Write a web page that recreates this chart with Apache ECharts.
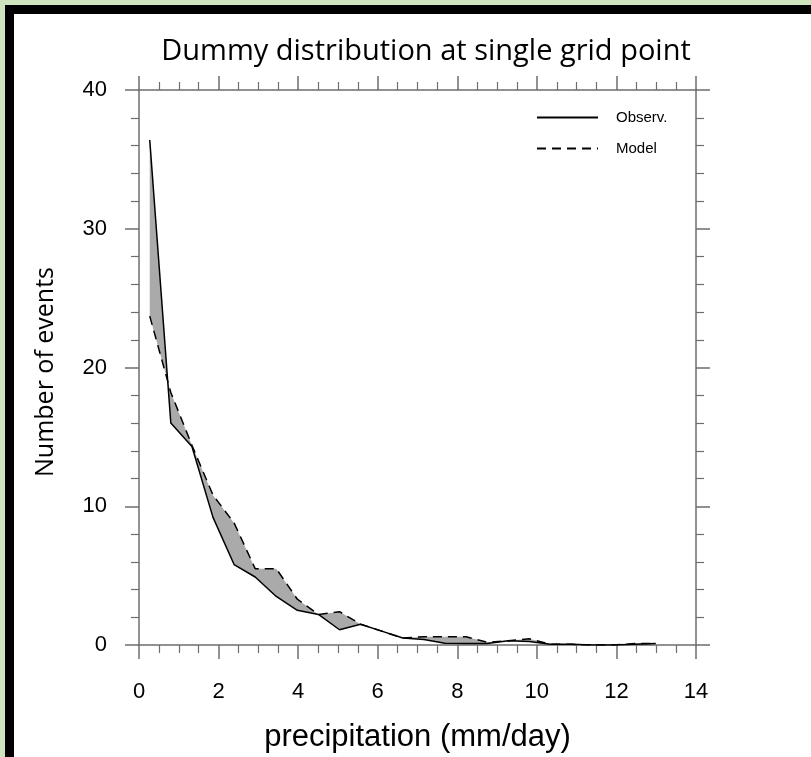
<!DOCTYPE html>
<html>
<head>
<meta charset="utf-8">
<script src="https://cdn.jsdelivr.net/npm/echarts@6/dist/echarts.min.js"></script>
<style>
  html, body { margin:0; padding:0; width:811px; height:757px; overflow:hidden; background:#cde4be; }
  #frame { position:absolute; left:5px; top:5px; width:806px; height:752px; background:#000; }
  #paper { position:absolute; left:14px; top:14px; width:797px; height:743px; background:#fff; }
  #chart { position:absolute; left:0; top:0; width:811px; height:757px; }
</style>
</head>
<body>
<div id="frame"></div>
<div id="paper"></div>
<div id="chart"></div>
<script>
// Bin centres (mm/day)
const precip = [0.27, 0.80, 1.33, 1.86, 2.39, 2.92, 3.45, 3.98, 4.51, 5.04, 5.57, 6.10, 6.63,
                7.16, 7.69, 8.22, 8.75, 9.28, 9.81, 10.34, 10.87, 11.40, 11.93, 12.46, 12.99];
// Number of events
const observ = [36.4, 16.0, 14.3, 9.2, 5.8, 4.9, 3.5, 2.5, 2.2, 1.1, 1.5, 1.0, 0.5,
                0.4, 0.12, 0.1, 0.1, 0.3, 0.25, 0.05, 0.05, 0.0, 0.0, 0.05, 0.1];
const model  = [23.7, 18.2, 14.4, 10.8, 8.8, 5.5, 5.5, 3.3, 2.2, 2.4, 1.5, 1.0, 0.5,
                0.6, 0.6, 0.6, 0.2, 0.3, 0.45, 0.05, 0.05, 0.0, 0.0, 0.1, 0.1];
const xTicks = { min: 0, max: 14, interval: 2 };
const yTicks = { min: 0, max: 40, interval: 10 };

const obsData = precip.map((x, i) => [x, observ[i]]);
const modData = precip.map((x, i) => [x, model[i]]);

const axisGray = '#6e6e6e';
const labelFont = 'Liberation Sans, Arial, sans-serif';
const titleFont = '"Open Sans", Lato, sans-serif';

function xAx(pos, showLabel) {
  return {
    type: 'value', position: pos, min: xTicks.min, max: xTicks.max, interval: xTicks.interval,
    axisLine: { show: true, onZero: false, lineStyle: { color: axisGray, width: 1.5 } },
    axisTick: { show: true, length: 14, lineStyle: { color: axisGray, width: 1.5 } },
    minorTick: { show: true, splitNumber: 4, length: 8, lineStyle: { color: axisGray, width: 1.2 } },
    splitLine: { show: false },
    axisLabel: { show: showLabel, color: '#000', fontFamily: labelFont, fontSize: 22, margin: 36 },
    name: showLabel ? 'precipitation (mm/day)' : '',
    nameLocation: 'middle', nameGap: 77,
    nameTextStyle: { color: '#000', fontFamily: labelFont, fontSize: 31 }
  };
}
function yAx(pos, showLabel) {
  return {
    type: 'value', position: pos, min: yTicks.min, max: yTicks.max, interval: yTicks.interval,
    axisLine: { show: true, onZero: false, lineStyle: { color: axisGray, width: 1.5 } },
    axisTick: { show: true, length: 14, lineStyle: { color: axisGray, width: 1.5 } },
    minorTick: { show: true, splitNumber: 5, length: 8, lineStyle: { color: axisGray, width: 1.2 } },
    splitLine: { show: false },
    axisLabel: { show: showLabel, color: '#000', fontFamily: labelFont, fontSize: 22, margin: 32 }
  };
}

const chart = echarts.init(document.getElementById('chart'), null, { renderer: 'canvas' });
chart.setOption({
  backgroundColor: 'transparent',
  animation: false,
  grid: { left: 139, right: 115, top: 90, bottom: 112, containLabel: false, outerBoundsMode: 'none' },
  xAxis: [xAx('bottom', true), xAx('top', false)],
  yAxis: [yAx('left', true), yAx('right', false)],
  legend: {
    orient: 'vertical', left: 536, top: 110, padding: 0,
    itemWidth: 61, itemHeight: 14, itemGap: 16,
    itemStyle: { color: 'rgba(0,0,0,0)', borderWidth: 0, opacity: 0 },
    textStyle: { color: '#000', fontFamily: labelFont, fontSize: 15, padding: [0, 0, 0, 13] },
    data: ['Observ.', 'Model'],
    selectedMode: false
  },
  graphic: [
    { type: 'text', x: 426, y: 52, style: { text: 'Dummy distribution at single grid point',
      fill: '#000', font: '29px ' + titleFont, textAlign: 'center', textVerticalAlign: 'middle' } },
    { type: 'text', x: 46, y: 372, rotation: Math.PI / 2, style: { text: 'Number of events',
      fill: '#000', font: '25px ' + titleFont, textAlign: 'center', textVerticalAlign: 'middle' } }
  ],
  series: [
    {
      type: 'custom', name: 'diff', silent: true, z: 1, clip: true,
      data: [[precip[0], observ[0]]],
      renderItem: function (params, api) {
        const pts = [];
        for (let i = 0; i < precip.length; i++) pts.push(api.coord([precip[i], observ[i]]));
        for (let i = precip.length - 1; i >= 0; i--) pts.push(api.coord([precip[i], model[i]]));
        return { type: 'polygon', shape: { points: pts }, style: { fill: '#aaaaaa', stroke: null } };
      }
    },
    {
      type: 'line', name: 'Observ.', data: obsData, symbol: 'none', z: 3,
      lineStyle: { color: '#000', width: 1.5, type: 'solid' }, itemStyle: { color: '#000' }
    },
    {
      type: 'line', name: 'Model', data: modData, symbol: 'none', z: 3,
      lineStyle: { color: '#000', width: 1.5, type: [9, 6] }, itemStyle: { color: '#000' }
    }
  ]
});
</script>
</body>
</html>
